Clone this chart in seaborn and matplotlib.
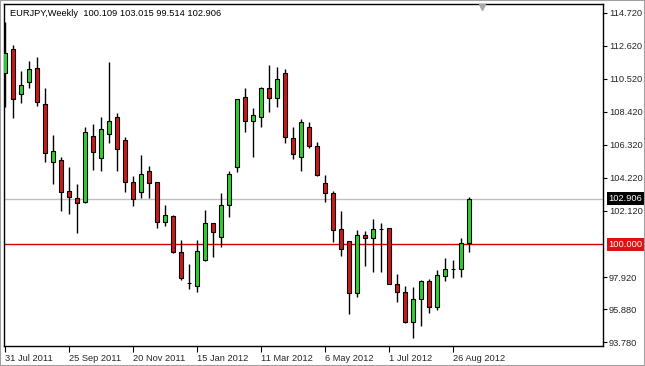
import matplotlib
matplotlib.use("Agg")
import matplotlib.pyplot as plt
import matplotlib.patches as mpatches
import seaborn as sns
import numpy as np
import pandas as pd

# ---- data (weekly EURJPY candles) ----
opens = [110.90, 112.43, 109.56, 110.33, 111.22, 108.93, 105.24, 105.36, 103.39, 102.95,
         102.69, 106.89, 105.49, 107.02, 108.10, 106.64, 103.96, 103.33, 104.66, 103.96,
         101.42, 101.80, 99.51, 97.53, 97.34, 99.00, 101.35, 100.46, 102.50, 104.92,
         109.37, 107.85, 108.10, 109.95, 109.31, 110.90, 106.76, 105.55, 107.46, 106.25,
         103.90, 103.26, 100.97, 100.21, 96.90, 100.59, 100.40, 100.97, 101.04, 97.47,
         96.96, 95.05, 96.52, 97.66, 96.01, 97.98, 98.43, 98.43, 100.109]
highs = [114.15, 112.68, 111.03, 111.67, 111.92, 109.95, 106.95, 105.55, 104.92, 103.84,
         107.46, 107.65, 108.10, 111.60, 108.36, 106.83, 104.35, 105.68, 104.98, 103.96,
         102.50, 101.86, 100.27, 98.74, 100.27, 102.18, 101.35, 103.26, 104.66, 109.25,
         109.95, 108.67, 110.01, 111.41, 111.28, 111.16, 107.46, 107.97, 107.78, 106.51,
         104.41, 103.39, 102.12, 100.21, 100.91, 100.84, 101.61, 101.35, 101.04, 98.11,
         97.34, 97.28, 97.73, 97.79, 98.36, 99.13, 99.00, 100.40, 103.015]
lows = [108.74, 108.04, 108.99, 109.95, 108.80, 105.24, 103.84, 102.12, 101.93, 100.72,
        102.63, 104.73, 104.66, 106.45, 104.66, 103.33, 102.44, 102.95, 102.95, 101.04,
        101.16, 99.44, 97.73, 97.15, 96.96, 98.94, 99.19, 99.83, 101.74, 104.60,
        107.15, 105.55, 107.46, 108.42, 108.74, 106.45, 105.43, 104.66, 106.13, 104.35,
        102.69, 100.14, 99.25, 95.56, 96.64, 98.62, 98.23, 98.23, 97.47, 96.33,
        94.99, 94.03, 94.80, 95.63, 95.82, 97.66, 97.85, 97.92, 99.514]
closes = [112.17, 109.25, 110.14, 111.16, 109.06, 105.81, 105.94, 103.33, 103.01, 102.63,
          107.15, 105.87, 107.34, 107.85, 106.06, 103.96, 102.88, 104.47, 103.90, 101.42,
          101.86, 99.51, 97.85, 97.53, 99.57, 101.35, 100.78, 102.50, 104.47, 109.25,
          107.85, 108.23, 109.95, 109.31, 110.52, 106.83, 105.75, 107.78, 106.25, 104.41,
          103.26, 100.91, 99.70, 96.90, 100.59, 100.40, 100.97, 100.97, 97.47, 96.96,
          95.05, 96.52, 97.66, 96.01, 98.04, 98.43, 98.43, 100.11, 102.906]

date_labels = ["31 Jul 2011", "25 Sep 2011", "20 Nov 2011", "15 Jan 2012",
               "11 Mar 2012", "6 May 2012", "1 Jul 2012", "26 Aug 2012"]
price_ticks = [114.720, 112.620, 110.520, 108.420, 106.320, 104.220, 102.120,
               97.920, 95.880, 93.780]
bid_price = 102.906
hline_price = 100.000
title_text = "EURJPY,Weekly  100.109 103.015 99.514 102.906"

df = pd.DataFrame({"open": opens, "high": highs, "low": lows, "close": closes})
df["idx"] = np.arange(len(df))

sns.set_style("white")
plt.rcParams["font.family"] = ["Liberation Sans", "DejaVu Sans"]

fig = plt.figure(figsize=(6.45, 3.66), dpi=100)
ax = fig.add_axes([4 / 645, 1 - 346 / 366, 599 / 645, 342 / 366])

GREEN = "#32d032"
RED = "#cc1a1a"

# wicks
ax.vlines(df["idx"], df["low"], df["high"], color="black", linewidth=1.0, zorder=2)

# bodies
colors = np.where(df["close"] > df["open"], GREEN,
                  np.where(df["close"] < df["open"], RED, "black"))
ax.bar(df["idx"], df["close"] - df["open"], bottom=df["open"], width=0.62,
       color=colors, edgecolor="black", linewidth=0.8, zorder=3)

# horizontal lines
ax.axhline(bid_price, color="#c0c0c0", linewidth=1.0, zorder=1)
ax.axhline(hline_price, color="#d40000", linewidth=1.0, zorder=1)

ax.set_xlim(-0.125, 74.75)
ax.set_ylim(93.53, 115.29)

for s in ax.spines.values():
    s.set_color("black")
    s.set_linewidth(1.0)
    s.set_visible(True)

ax.yaxis.tick_right()
ax.set_yticks(price_ticks)
ax.set_yticklabels([f"{v:.3f}" for v in price_ticks])
ax.set_xticks(np.arange(0, 8 * len(date_labels), 8))
ax.set_xticklabels(date_labels)
ax.tick_params(axis="y", right=True, left=False, direction="out", length=3,
               width=0.8, color="black", labelsize=6.7, pad=1.2)
ax.tick_params(axis="x", bottom=True, direction="out", length=4, width=0.8,
               color="black", labelsize=6.7, pad=2)
for lbl in ax.get_xticklabels():
    lbl.set_horizontalalignment("left")

# price labels on the scale
ax.annotate(f"{hline_price:.3f}", xy=(1.0, hline_price), xycoords=("axes fraction", "data"),
            xytext=(4, 0), textcoords="offset points", ha="left", va="center",
            fontsize=6.7, color="white",
            bbox=dict(boxstyle="square,pad=0.2", fc="#e01010", ec="none"))
ax.annotate(f"{bid_price:.3f}", xy=(1.0, bid_price), xycoords=("axes fraction", "data"),
            xytext=(4, 0), textcoords="offset points", ha="left", va="center",
            fontsize=6.7, color="white",
            bbox=dict(boxstyle="square,pad=0.2", fc="black", ec="none"))

ax.text(0.01, 0.985, title_text, transform=ax.transAxes, ha="left", va="top",
        fontsize=6.7, color="black")

# chart shift marker
ax.plot([0.798], [0.992], marker="v", markersize=5, color="#a8a8a8",
        transform=ax.transAxes, clip_on=False, zorder=5)

fig.patches.append(mpatches.Rectangle((0, 0), 1, 1, transform=fig.transFigure,
                                      fill=False, edgecolor="#a0a0a0", linewidth=1.5))

fig.savefig("out.png", dpi=100, facecolor="white")
